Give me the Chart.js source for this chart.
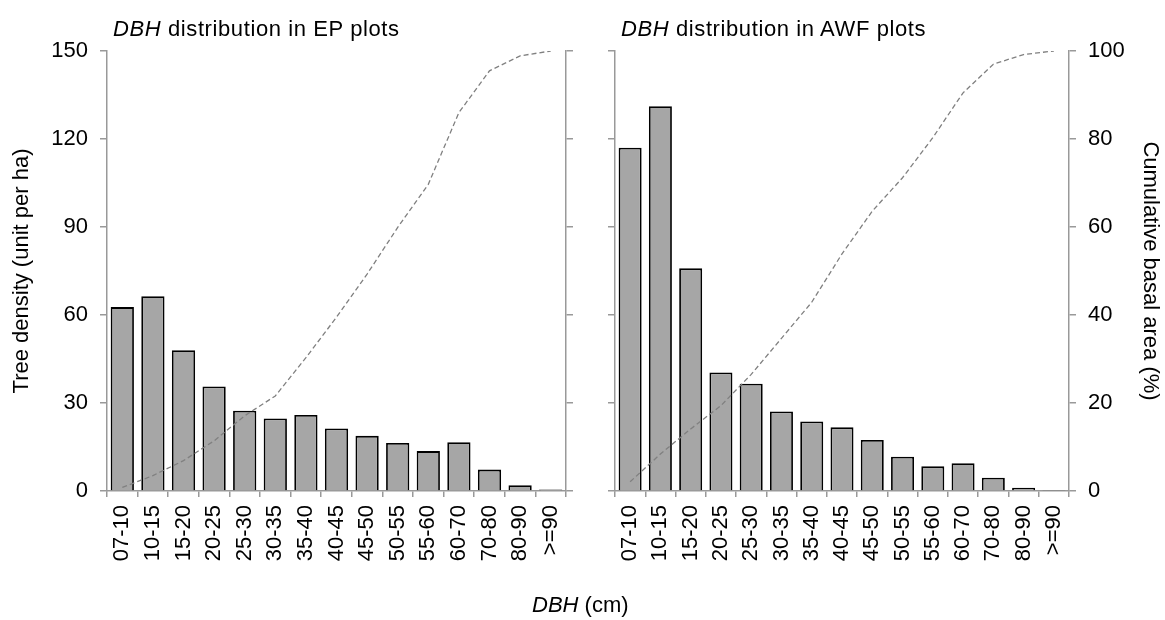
<!DOCTYPE html><html><head>
    <title>DBH distribution</title>
    <style>
        body { margin: 0; background: #fff; font-family: 'Liberation Sans', Arial, Helvetica; }
        #wrap { position: relative; width: 1165px; height: 620px; }
        canvas { position: absolute; top: 0; }
        .lbl { position: absolute; font-size: 22px; line-height: 22px; color: #000; white-space: nowrap; }
        .ttl { letter-spacing: 0.6px; }
    </style>
</head>
<body onload="drawCharts()">
<div id="wrap">
    <canvas id="ep" width="590" height="620" style="left:0"></canvas>
    <canvas id="awf" width="575" height="620" style="left:590px"></canvas>
    <div class="lbl ttl" style="left:113px; top:18px"><i>DBH</i> distribution in EP plots</div>
    <div class="lbl ttl" style="left:621px; top:18px"><i>DBH</i> distribution in AWF plots</div>
    <div class="lbl" style="left:532px; top:594px"><i>DBH</i> (cm)</div>
</div>
<script src="https://cdn.jsdelivr.net/npm/chart.js"></script>
<script>
    // DBH classes
    const classes = ['07-10','10-15','15-20','20-25','25-30','30-35','35-40','40-45','45-50','50-55','55-60','60-70','70-80','80-90','>=90'];
    // tree density (unit per ha)
    const epDensity  = [62.7, 66.4, 48.0, 35.6, 27.4, 24.7, 25.9, 21.3, 18.8, 16.4, 13.6, 16.6, 7.3, 2.0, 0.5];
    const awfDensity = [117.0, 131.2, 75.9, 40.4, 36.6, 27.1, 23.7, 21.7, 17.4, 11.7, 8.4, 9.5, 4.5, 1.1, 0.3];
    // cumulative basal area (%)
    const epCumBA  = [0.8, 3.5, 6.9, 11.4, 17.1, 21.6, 30.3, 39.5, 49.3, 59.9, 69.7, 86.0, 95.5, 98.9, 100];
    const awfCumBA = [2.1, 8.4, 14.1, 19.4, 26.5, 34.7, 42.9, 53.9, 63.6, 71.2, 80.3, 90.5, 97.0, 99.2, 100];

    const axisGrey = '#999999';

    function makeChart(id, density, cum, leftW, rightW, showLeft) {
        const yLeft = {
            position: 'left', min: 0, max: 150,
            ticks: { stepSize: 30, display: showLeft, padding: 12, color: '#000' },
            grid: { drawOnChartArea: false, drawTicks: true, tickLength: 7, color: axisGrey, lineWidth: 1.5 },
            border: { display: true, color: axisGrey, width: 1.5 },
            title: { display: showLeft, text: 'Tree density (unit per ha)', color: '#000', padding: { top: 9, bottom: 0 } },
            afterFit: function(axis) { axis.width = leftW; }
        };
        const yRight = {
            position: 'right', min: 0, max: 100,
            ticks: { stepSize: 20, display: !showLeft, padding: 12, color: '#000' },
            grid: { drawOnChartArea: false, drawTicks: true, tickLength: 7, color: axisGrey, lineWidth: 1.5 },
            border: { display: true, color: axisGrey, width: 1.5 },
            title: { display: !showLeft, text: 'Cumulative basal area (%)', color: '#000', padding: { top: 2, bottom: 0 } },
            afterFit: function(axis) { axis.width = rightW; }
        };
        return new Chart(document.getElementById(id).getContext('2d'), {
            data: {
                labels: classes,
                datasets: [{
                    type: 'line',
                    data: cum,
                    yAxisID: 'y2',
                    borderColor: '#808080',
                    borderWidth: 1.3,
                    borderDash: [5, 3],
                    pointRadius: 0,
                    tension: 0,
                    order: 0
                }, {
                    type: 'bar',
                    data: density,
                    yAxisID: 'y',
                    backgroundColor: '#a6a6a6',
                    borderColor: '#000000',
                    borderWidth: 1.8,
                    categoryPercentage: 1,
                    barPercentage: 0.76,
                    order: 1
                }]
            },
            options: {
                responsive: false,
                animation: false,
                layout: { padding: { top: 51, left: 0, right: 0, bottom: 0 } },
                plugins: { legend: { display: false }, tooltip: { enabled: false } },
                scales: {
                    x: {
                        offset: true,
                        ticks: { autoSkip: false, minRotation: 90, maxRotation: 90, padding: 8, color: '#000' },
                        grid: { offset: true, drawOnChartArea: false, drawTicks: true, tickLength: 6, color: axisGrey, lineWidth: 1.5 },
                        border: { display: true, color: axisGrey, width: 1.5 },
                        afterFit: function(axis) { axis.height = 129; }
                    },
                    y: yLeft,
                    y2: yRight
                }
            }
        });
    }

    function drawCharts() {
        Chart.defaults.font.family = "'Liberation Sans', Arial, Helvetica";
        Chart.defaults.font.size = 22;
        Chart.defaults.color = '#000';
        makeChart('ep', epDensity, epCumBA, 107, 24, true);
        makeChart('awf', awfDensity, awfCumBA, 25, 96, false);
    }
</script>
</body></html>
